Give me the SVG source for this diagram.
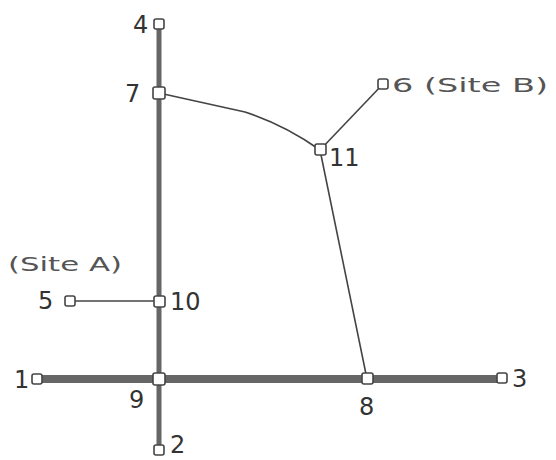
<svg xmlns="http://www.w3.org/2000/svg" width="556" height="460" viewBox="0 0 556 460">
<style>
.n{fill:#fff;stroke:#444;stroke-width:1.6}
.t{font-family:"DejaVu Sans",sans-serif;font-size:24px;fill:#333}
.s{font-family:"DejaVu Sans",sans-serif;font-size:20px;fill:#555}
.thick{stroke:#666;stroke-width:8;fill:none}
.med{stroke:#666;stroke-width:5;fill:none}
.thin{stroke:#444;stroke-width:1.6;fill:none}
</style>
<rect width="556" height="460" fill="#fff"/>
<g id="connectors">
<line class="thick" x1="37" y1="379" x2="502" y2="379"/>
<line class="med" x1="159" y1="24" x2="159" y2="450"/>
<path class="thin" d="M159 93 L245 112 Q285 125 320 150"/>
<line class="thin" x1="320" y1="150" x2="383" y2="84"/>
<line class="thin" x1="320" y1="150" x2="367" y2="379"/>
<line class="thin" x1="70" y1="301" x2="159" y2="301"/>
</g>
<g id="n1"><rect class="n" x="32" y="374" width="10" height="10" rx="2"/><text class="t" x="14" y="388">1</text></g>
<g id="n2"><rect class="n" x="154" y="445" width="10" height="10" rx="2"/><text class="t" x="170" y="453">2</text></g>
<g id="n3"><rect class="n" x="497" y="373" width="10" height="10" rx="2"/><text class="t" x="512" y="387">3</text></g>
<g id="n4"><rect class="n" x="154" y="19" width="10" height="10" rx="2"/><text class="t" x="133" y="33">4</text></g>
<g id="n5"><rect class="n" x="65" y="296" width="10" height="10" rx="2"/><text class="t" x="38" y="309">5</text><text class="s" x="8" y="271" textLength="114" lengthAdjust="spacingAndGlyphs">(Site A)</text></g>
<g id="n6"><rect class="n" x="378" y="79" width="10" height="10" rx="2"/><text class="s" x="392" y="92" textLength="156" lengthAdjust="spacingAndGlyphs">6 (Site B)</text></g>
<g id="n7"><rect class="n" x="153" y="87" width="12" height="12" rx="2"/><text class="t" x="125" y="102">7</text></g>
<g id="n8"><rect class="n" x="362" y="373" width="11" height="11" rx="2"/><text class="t" x="359" y="415">8</text></g>
<g id="n9"><rect class="n" x="153" y="373" width="12" height="12" rx="2"/><text class="t" x="129" y="408">9</text></g>
<g id="n10"><rect class="n" x="154" y="296" width="11" height="11" rx="2"/><text class="t" x="170" y="310">10</text></g>
<g id="n11"><rect class="n" x="315" y="144" width="11" height="11" rx="2"/><text class="t" x="329" y="166">11</text></g>
</svg>
